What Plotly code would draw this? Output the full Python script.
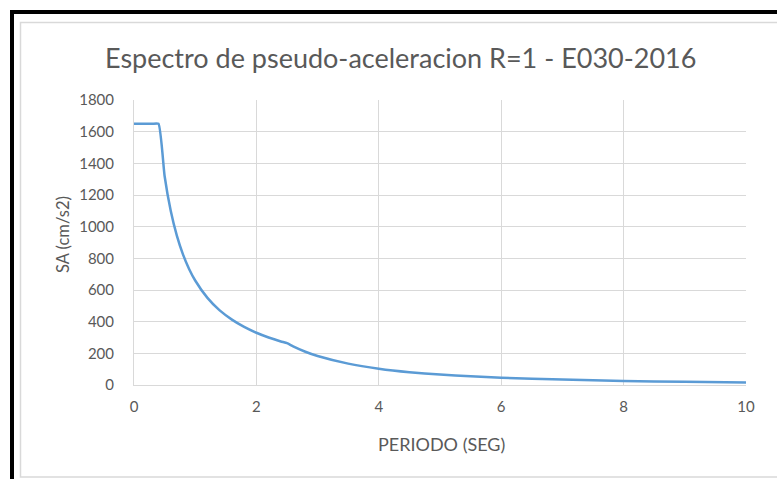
import plotly.graph_objects as go

# Pseudo-acceleration spectrum, R = 1 (E030-2016)
periodo = [0.0, 0.1, 0.2, 0.3, 0.4, 0.5, 0.6, 0.7, 0.8, 0.9, 1.0, 1.2, 1.4,
           1.6, 1.8, 2.0, 2.2, 2.4, 2.5, 2.6, 2.8, 3.0, 3.5, 4.0, 4.5, 5.0, 5.5, 6.0,
           7.0, 8.0, 9.0, 10.0]
sa = [1650, 1650, 1650, 1650, 1650, 1320, 1100, 943, 825, 733, 660, 550, 471,
      413, 367, 330, 300, 275, 264, 244, 210, 183, 135, 103, 81, 66, 55, 46,
      34, 26, 20, 16.5]

x_ticks = [0, 2, 4, 6, 8, 10]
y_ticks = [0, 200, 400, 600, 800, 1000, 1200, 1400, 1600, 1800]

titulo = "Espectro de pseudo-aceleracion R=1 - E030-2016"
eje_x = "PERIODO (SEG)"
eje_y = "SA (cm/s2)"

W, H = 777, 479
L, R, T, B = 134, 746, 100, 385  # plot-area edges in pixels


def px(x):
    return (x - L) / (R - L)


def py(y):
    return (B - y) / (B - T)


FONT = "Lato"
GRAY = "#595959"
GRID = "#D9D9D9"

fig = go.Figure(
    go.Scatter(
        x=periodo, y=sa, mode="lines",
        line=dict(color="#5B9BD5", width=2.5, shape="spline", smoothing=0.45),
        hoverinfo="skip",
    )
)

axis_common = dict(
    showgrid=True, gridcolor=GRID, gridwidth=1,
    zeroline=False, showline=True, linecolor=GRID, linewidth=1,
    ticks="", tickfont=dict(family=FONT, size=15, color=GRAY),
    fixedrange=True,
)

fig.update_xaxes(range=[0, 10], tickvals=x_ticks, ticktext=[str(v) for v in x_ticks],
                 ticklabelstandoff=8, **axis_common)
fig.update_yaxes(range=[0, 1800], tickvals=y_ticks, ticktext=[str(v) for v in y_ticks],
                 ticklabelstandoff=16, **axis_common)

annotations = [
    dict(text=titulo, x=px(400), y=py(58), xref="paper", yref="paper",
         xanchor="center", yanchor="middle", showarrow=False,
         font=dict(family=FONT, size=27, color=GRAY)),
    dict(text=eje_x, x=px(441), y=py(444), xref="paper", yref="paper",
         xanchor="center", yanchor="middle", showarrow=False,
         font=dict(family=FONT, size=18, color=GRAY)),
    dict(text=eje_y, x=px(63), y=py(235), xref="paper", yref="paper",
         xanchor="center", yanchor="middle", textangle=-90, showarrow=False,
         font=dict(family=FONT, size=16.5, color=GRAY)),
]

shapes = [
    # chart-area outline
    dict(type="rect", xref="paper", yref="paper",
         x0=px(20.5), x1=px(790), y0=py(477), y1=py(22.5),
         line=dict(color=GRID, width=1.5), layer="below"),
    # black frame
    dict(type="line", xref="paper", yref="paper",
         x0=px(12), x1=px(790), y0=py(12), y1=py(12),
         line=dict(color="black", width=4)),
    dict(type="line", xref="paper", yref="paper",
         x0=px(12), x1=px(12), y0=py(10), y1=py(490),
         line=dict(color="black", width=4)),
]

fig.update_layout(
    width=W, height=H,
    margin=dict(l=L, r=W - R, t=T, b=H - B),
    paper_bgcolor="white", plot_bgcolor="white",
    showlegend=False,
    annotations=annotations,
    shapes=shapes,
)

fig.write_html("out.html", config={"displayModeBar": False})
